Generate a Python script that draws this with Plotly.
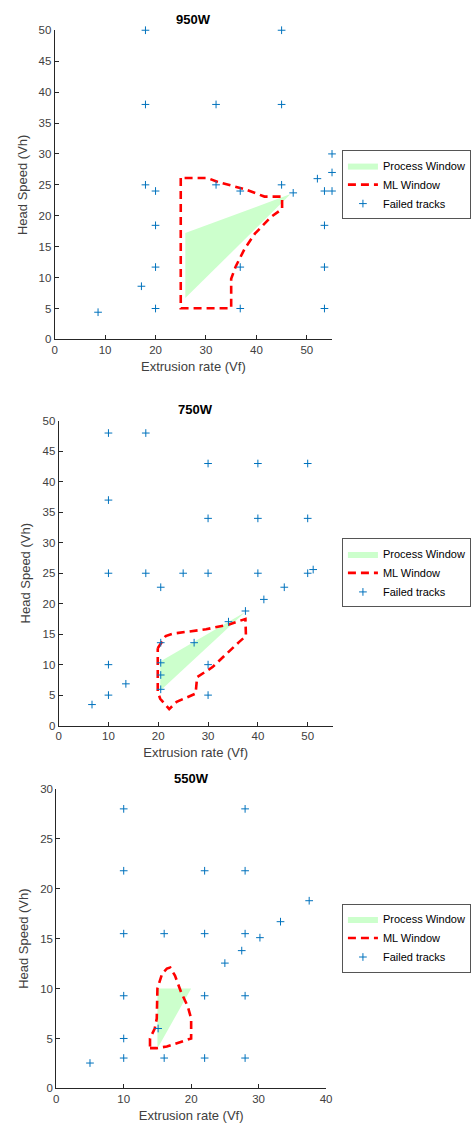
import plotly.graph_objects as go

W, H = 473, 1131

# ---------------- 950W ----------------
fail950_x = [18, 45, 18, 32, 45, 55, 55, 52.1, 18, 32, 45, 20, 36.8, 53.5, 55, 47.3, 20, 53.5, 20, 36.8, 53.5, 17.2, 8.6, 20, 36.8, 53.5]
fail950_y = [50, 50, 38, 38, 38, 30, 27, 26, 25, 25, 25, 24, 24, 24, 24, 23.7, 18.45, 18.45, 11.7, 11.7, 11.7, 8.6, 4.4, 5, 5, 5]
pw950_x = [25.9, 25.9, 46.8]
pw950_y = [17.2, 6.7, 23.5]
ml950_x = [25.0, 25.0, 35.0, 35.0, 35.9, 37.7, 39.7, 42.9, 45.1, 45.1, 41.6, 37.7, 32.6, 30.3, 25.0]
ml950_y = [26.1, 5.05, 5.05, 9.8, 11.8, 14.7, 17.1, 19.8, 21.1, 23.1, 23.1, 24.3, 25.4, 26.1, 26.1]

# ---------------- 750W ----------------
fail750_x = [10, 17.5, 30, 40, 50, 10, 30, 40, 50, 10, 17.5, 25, 30, 40, 50, 51.1, 20.5, 45.3, 41.2, 37.5, 34.1, 20.5, 27.2, 10, 20.5, 30, 20.5, 13.5, 20.5, 10, 30, 6.7]
fail750_y = [48, 48, 43, 43, 43, 37, 34, 34, 34, 25, 25, 25, 25, 25, 25, 25.6, 22.7, 22.7, 20.7, 18.8, 17.05, 13.6, 13.6, 10, 10.3, 10, 8.3, 6.85, 5.95, 5, 5, 3.45]
pw750_x = [20.4, 20.4, 37.4]
pw750_y = [10.5, 5.7, 18.6]
ml750_x = [19.9, 21.5, 23.0, 29.6, 34.2, 37.5, 37.6, 36.2, 30.9, 27.8, 27.5, 23.7, 22.2, 20.4, 19.9, 19.9]
ml750_y = [12.7, 14.7, 15.1, 15.8, 16.6, 17.5, 14.7, 13.7, 9.6, 7.95, 5.25, 3.9, 2.7, 4.4, 5.5, 12.7]

# ---------------- 550W ----------------
fail550_x = [10, 28, 10, 22, 28, 37.5, 33.25, 10, 16, 22, 28, 30.2, 27.5, 25, 10, 22, 28, 15.1, 10, 10, 16, 22, 28, 5.0]
fail550_y = [28, 28, 21.8, 21.8, 21.8, 18.8, 16.7, 15.5, 15.5, 15.5, 15.5, 15.1, 13.8, 12.55, 9.28, 9.28, 9.28, 6.0, 5.0, 3.04, 3.04, 3.04, 3.04, 2.54]
pw550_x = [15.0, 20.0, 15.0]
pw550_y = [10.0, 10.0, 4.0]
ml550_x = [13.9, 14.9, 16.4, 18.5, 20.0, 20.0, 19.5, 18.5, 17.6, 16.9, 16.4, 15.7, 15.0, 14.9, 14.6, 13.9, 13.9]
ml550_y = [4.03, 4.03, 4.2, 4.7, 5.0, 7.0, 8.2, 9.65, 11.3, 12.1, 12.0, 11.5, 10.0, 7.0, 6.0, 5.0, 4.03]

titles = ["950W", "750W", "550W"]
x_ranges = [[0, 55], [0, 55], [0, 40]]
y_ranges = [[0, 50], [0, 50], [0, 30]]
x_dtick = [10, 10, 10]
y_dtick = [5, 5, 5]

# plot boxes in pixels: (left, right, top, bottom)
boxes = [(52.7, 335.4, 24.5, 337.0), (56.7, 336.0, 419.3, 727.3), (54.3, 329.3, 791.3, 1094.0)]
legend_centers = [180.5, 573, 942]

panels = [
    (fail950_x, fail950_y, pw950_x, pw950_y, ml950_x, ml950_y),
    (fail750_x, fail750_y, pw750_x, pw750_y, ml750_x, ml750_y),
    (fail550_x, fail550_y, pw550_x, pw550_y, ml550_x, ml550_y),
]

FONT = "Liberation Sans, Arial, sans-serif"
AX = "#262626"
TXT = "#404040"
BLUE = "#0072BD"
GREEN = "rgb(204,255,204)"
RED = "#FF0000"

fig = go.Figure()
layout = dict(
    width=W, height=H,
    margin=dict(l=0, r=0, t=0, b=0),
    paper_bgcolor="white", plot_bgcolor="white",
    font=dict(family=FONT, size=11, color=TXT),
    showlegend=True,
    annotations=[],
)

for i, (fx, fy, px, py, mx, my) in enumerate(panels):
    n = "" if i == 0 else str(i + 1)
    xa, ya = "x" + n, "y" + n
    leg = "legend" + n
    fig.add_trace(go.Scatter(
        x=px + [px[0]], y=py + [py[0]], xaxis=xa, yaxis=ya, mode="lines",
        fill="toself", fillcolor=GREEN, line=dict(width=0, color=GREEN),
        name="Process Window", legend=leg, hoverinfo="skip"))
    fig.add_trace(go.Scatter(
        x=mx, y=my, xaxis=xa, yaxis=ya, mode="lines",
        line=dict(width=2.6, color=RED, dash="8px,5px"),
        name="ML Window", legend=leg))
    fig.add_trace(go.Scatter(
        x=fx, y=fy, xaxis=xa, yaxis=ya, mode="markers",
        marker=dict(symbol="cross-thin", size=5.5, line=dict(width=1, color=BLUE), color=BLUE),
        cliponaxis=False, name="Failed tracks", legend=leg))

    l, r, t, b = boxes[i]
    layout["xaxis" + n] = dict(
        domain=[l / W, r / W], anchor=ya, range=x_ranges[i], dtick=x_dtick[i], tick0=0,
        showline=True, linecolor=AX, linewidth=1, ticks="inside", ticklen=4, tickcolor=AX,
        showgrid=False, zeroline=False, tickfont=dict(size=11.5, color=TXT),
        title=dict(text="Extrusion rate (Vf)", font=dict(size=13, color=TXT), standoff=6))
    layout["yaxis" + n] = dict(
        domain=[1 - b / H, 1 - t / H], anchor=xa, range=y_ranges[i], dtick=y_dtick[i], tick0=0,
        showline=True, linecolor=AX, linewidth=1, ticks="inside", ticklen=4, tickcolor=AX,
        showgrid=False, zeroline=False, tickfont=dict(size=11.5, color=TXT),
        title=dict(text="Head Speed (Vh)", font=dict(size=13, color=TXT), standoff=8))
    layout[leg] = dict(
        x=345.5 / W, y=1 - legend_centers[i] / H, xanchor="left", yanchor="middle",
        bgcolor="white", bordercolor="#555555", borderwidth=1,
        font=dict(size=11, color="#000000", family=FONT),
        tracegroupgap=0, itemwidth=30)
    layout["annotations"].append(dict(
        text="<b>" + titles[i] + "</b>", x=(l + r) / 2 / W, y=1 - (t - 11) / H,
        xref="paper", yref="paper", showarrow=False, xanchor="center", yanchor="middle",
        font=dict(size=13, color="#000000", family=FONT)))

fig.update_layout(**layout)
fig.write_html("out.html", config={"displayModeBar": False},
               post_script="document.body.style.margin='0';document.body.style.overflow='hidden';")
